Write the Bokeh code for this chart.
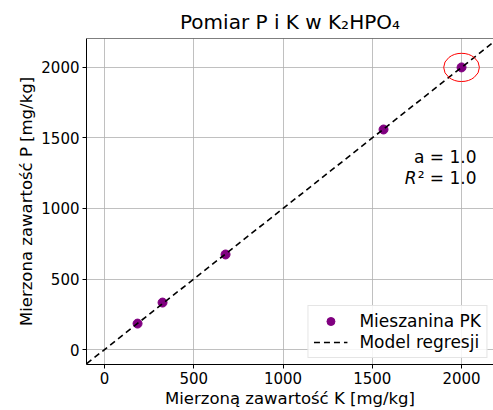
from bokeh.plotting import figure
from bokeh.models import Range1d, FixedTicker, Label, Span, Legend, LegendItem
from bokeh.embed import file_html
from bokeh.resources import INLINE

# data
k_measured = [185, 325, 678, 1563, 2000]
p_measured = [184, 333, 674, 1560, 2000]
line_x = [-100, 2200]
line_y = [-100, 2200]
highlight_x = [2000]
highlight_y = [2000]
ticks = [0, 500, 1000, 1500, 2000]

FONT = "DejaVu Sans"

p = figure(width=493, height=410, output_backend="svg", toolbar_location=None,
           x_range=Range1d(-101, 2179), y_range=Range1d(-106, 2205),
           min_border_left=86, min_border_right=0, min_border_top=38, min_border_bottom=46,
           title="Pomiar P i K w K\u2082HPO\u2084")
p.title.align = "center"
p.title.text_font = FONT
p.title.text_font_size = "20px"
p.title.text_font_style = "normal"
p.title.text_color = "black"
p.outline_line_color = None

for ax in (p.xaxis[0], p.yaxis[0]):
    ax.ticker = FixedTicker(ticks=ticks)
    ax.major_label_text_font = FONT
    ax.major_label_text_font_size = "15px"
    ax.major_label_text_color = "black"
    ax.axis_label_text_font = FONT
    ax.axis_label_text_font_size = "16.5px"
    ax.axis_label_text_font_style = "normal"
    ax.axis_label_text_color = "black"
    ax.minor_tick_line_color = None
    ax.major_tick_out = 4
    ax.major_tick_in = 0
    ax.axis_line_color = "black"
    ax.major_tick_line_color = "black"
    ax.major_label_standoff = 3
    ax.axis_label_standoff = 2

p.xaxis.axis_label = "Mierzoną zawartość K [mg/kg]"
p.yaxis.axis_label = "Mierzona zawartość P [mg/kg]"

p.xgrid.ticker = FixedTicker(ticks=ticks)
p.ygrid.ticker = FixedTicker(ticks=ticks)
p.grid.grid_line_color = "#b0b0b0"
p.grid.grid_line_width = 0.8

p.add_layout(Span(location=2205, dimension="width", line_color="black", line_width=1))

pts = p.scatter(k_measured, p_measured, size=9, color="purple")
ln = p.line(line_x, line_y, line_color="black", line_dash="6 4", line_width=1.6)
p.ellipse(highlight_x, highlight_y, width=200, height=200, fill_color=None,
          line_color="red", line_width=1)

p.add_layout(Label(x=2084, y=1362, text="a = 1.0", text_align="right", text_baseline="middle",
                   text_font=FONT, text_font_size="17px", text_color="black"))
p.add_layout(Label(x=2084, y=1213, text="\u00b2 = 1.0", text_align="right", text_baseline="middle",
                   text_font=FONT, text_font_size="17px", text_color="black"))
p.add_layout(Label(x=2084, y=1213, x_offset=-60, text="R", text_align="right", text_baseline="middle",
                   text_font=FONT, text_font_size="17px", text_font_style="italic", text_color="black"))

legend = Legend(items=[LegendItem(label="Mieszanina PK", renderers=[pts]),
                       LegendItem(label="Model regresji", renderers=[ln])],
                location="bottom_right")
legend.label_text_font = FONT
legend.label_text_font_size = "17px"
legend.label_text_color = "black"
legend.border_line_color = "#cccccc"
legend.background_fill_alpha = 0.85
legend.margin = 6
legend.padding = 5
legend.spacing = 1
legend.glyph_width = 34
legend.label_standoff = 12
p.add_layout(legend)

open("out.html", "w").write(file_html(p, INLINE))
